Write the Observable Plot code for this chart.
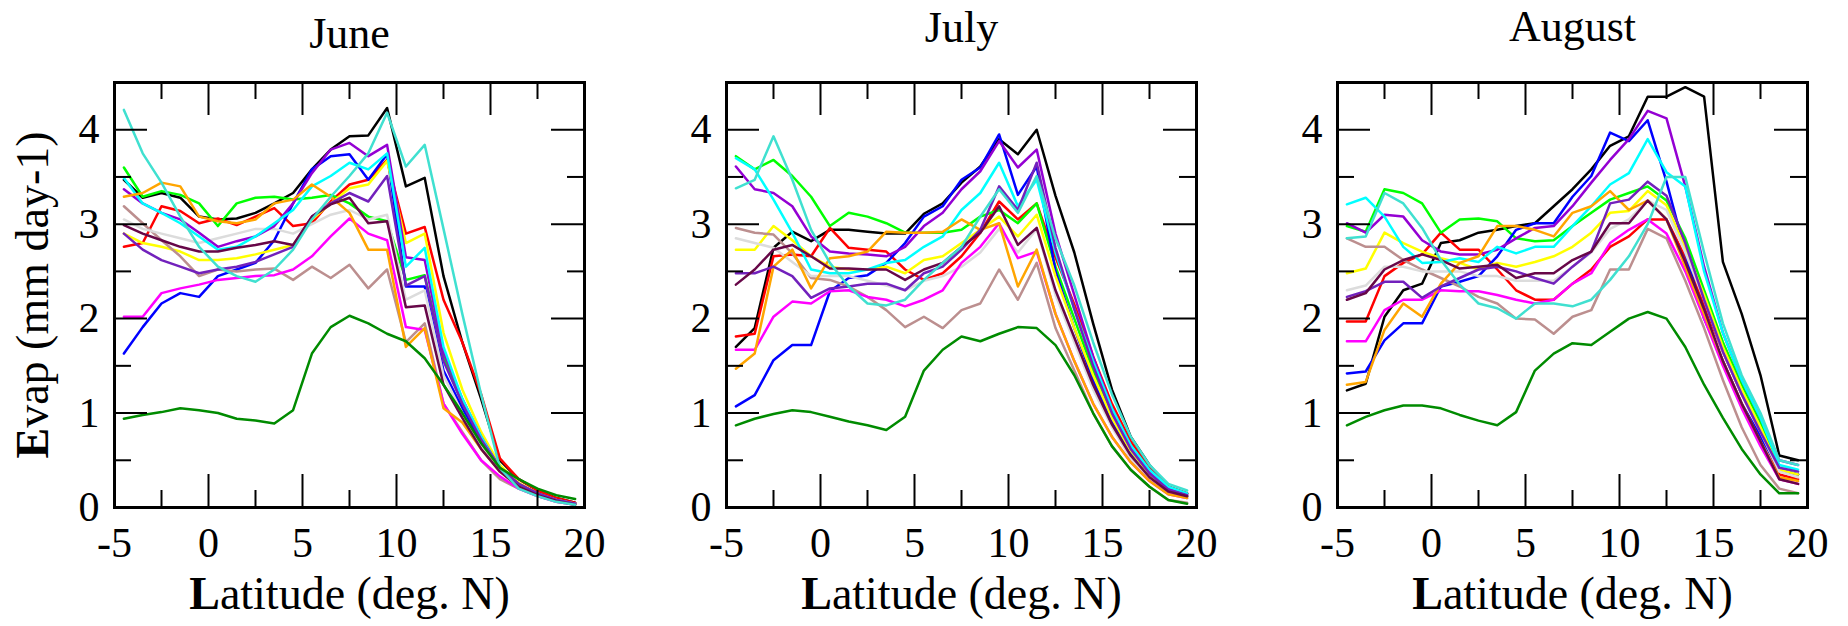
<!DOCTYPE html>
<html><head><meta charset="utf-8">
<script src="https://cdn.jsdelivr.net/npm/d3@7"></script>
<script src="https://cdn.jsdelivr.net/npm/@observablehq/plot@0.6"></script>
<style>
body{margin:0;background:#fff;}
#wrap{position:relative;width:1848px;height:626px;overflow:hidden;background:#fff;}
#wrap svg{position:absolute;top:0;}
#wrap svg text{font-family:'Liberation Serif','DejaVu Serif',serif !important;}
</style></head><body><div id="wrap"></div>
<script>
// Latitude grid (deg. N)
const lat = [-4.5,-3.5,-2.5,-1.5,-0.5,0.5,1.5,2.5,3.5,4.5,5.5,6.5,7.5,8.5,9.5,10.5,11.5,12.5,13.5,14.5,15.5,16.5,17.5,18.5,19.5];
const seriesNames = ["black","red","green","blue","yellow","brown","grey","violet","cyan","magenta","orange","indigo","maroon","turquoise","green4"];
const seriesColors = ["#000000","#ff0000","#00ff00","#0000ff","#ffff00","#bc8f8f","#dcdcdc","#9400d3","#00ffff","#ff00ff","#ffa500","#7221bc","#670748","#40e0d0","#008b00"];
const monthTitles = ["June","July","August"];
const xTickLabels = [-5,0,5,10,15,20];
const yTickLabels = [0,1,2,3,4];

const juneEvap = {
  black:    [3.47,3.28,3.33,3.28,3.08,3.05,3.06,3.12,3.22,3.33,3.58,3.79,3.93,3.94,4.23,3.40,3.49,2.45,1.75,1.15,0.50,0.30,0.18,0.10,0.05],
  red:      [2.76,2.80,3.19,3.14,3.01,3.06,2.99,3.08,3.17,2.98,3.01,3.24,3.42,3.47,3.68,2.90,2.97,2.20,1.75,1.20,0.52,0.30,0.18,0.10,0.05],
  green:    [3.60,3.29,3.35,3.31,3.22,2.98,3.22,3.28,3.29,3.26,3.28,3.31,3.22,3.08,3.03,2.41,2.46,1.60,1.10,0.75,0.42,0.25,0.15,0.08,0.04],
  blue:     [1.63,1.91,2.16,2.27,2.23,2.45,2.52,2.59,2.83,3.22,3.58,3.72,3.74,3.47,3.74,2.34,2.34,1.45,1.05,0.70,0.40,0.24,0.14,0.08,0.04],
  yellow:   [2.90,2.80,2.76,2.71,2.62,2.62,2.64,2.68,2.73,2.78,3.05,3.22,3.38,3.42,3.67,2.80,2.90,1.85,1.25,0.80,0.45,0.26,0.15,0.08,0.04],
  brown:    [3.19,3.01,2.83,2.66,2.45,2.52,2.50,2.52,2.53,2.41,2.55,2.43,2.57,2.32,2.52,1.75,1.95,1.10,0.80,0.50,0.30,0.20,0.12,0.06,0.03],
  grey:     [3.05,2.95,2.90,2.85,2.80,2.85,2.90,2.95,2.95,2.90,3.00,3.10,3.15,3.05,3.10,2.20,2.30,1.40,1.00,0.65,0.40,0.24,0.14,0.08,0.04],
  violet:   [3.37,3.22,3.12,3.05,2.91,2.76,2.82,2.87,2.98,3.22,3.54,3.79,3.86,3.72,3.84,2.65,2.62,1.65,1.15,0.75,0.42,0.25,0.15,0.08,0.04],
  cyan:     [3.49,3.22,3.12,3.01,2.87,2.73,2.76,2.87,3.01,3.15,3.40,3.51,3.65,3.58,3.75,2.55,2.75,1.70,1.15,0.75,0.40,0.22,0.13,0.07,0.03],
  magenta:  [2.02,2.02,2.27,2.32,2.36,2.41,2.43,2.45,2.46,2.52,2.66,2.87,3.06,2.90,2.83,1.91,1.88,1.10,0.78,0.50,0.33,0.20,0.12,0.06,0.03],
  orange:   [3.29,3.33,3.44,3.40,3.08,3.03,3.01,3.05,3.22,3.26,3.42,3.29,3.12,2.73,2.73,1.70,1.90,1.05,0.90,0.62,0.38,0.22,0.13,0.07,0.03],
  indigo:   [2.90,2.73,2.62,2.55,2.48,2.52,2.55,2.60,2.68,2.76,3.08,3.22,3.33,3.24,3.51,2.35,2.45,1.55,1.10,0.72,0.42,0.25,0.15,0.08,0.04],
  maroon:   [2.99,2.90,2.83,2.76,2.71,2.71,2.75,2.78,2.82,2.78,3.08,3.21,3.28,3.01,3.03,2.12,2.14,1.30,0.95,0.62,0.38,0.22,0.13,0.07,0.03],
  turquoise:[4.21,3.75,3.44,3.08,2.76,2.55,2.45,2.39,2.52,2.73,3.05,3.29,3.51,3.75,4.18,3.61,3.84,2.95,2.05,1.20,0.42,0.20,0.12,0.06,0.03],
  green4:   [0.94,0.98,1.01,1.05,1.03,1.00,0.94,0.92,0.89,1.03,1.63,1.91,2.03,1.95,1.84,1.76,1.58,1.30,1.00,0.68,0.42,0.30,0.20,0.13,0.09]
};
const julyEvap = {
  black:    [1.70,1.90,2.75,2.92,2.82,2.94,2.94,2.92,2.90,2.90,3.11,3.22,3.44,3.61,3.90,3.74,4.00,3.30,2.70,1.95,1.25,0.75,0.45,0.22,0.15],
  red:      [1.81,1.84,2.66,2.68,2.66,2.96,2.75,2.73,2.71,2.52,2.41,2.48,2.66,2.91,3.24,3.05,3.22,2.65,2.15,1.60,1.10,0.70,0.42,0.22,0.15],
  green:    [3.72,3.58,3.68,3.51,3.29,2.98,3.12,3.08,3.01,2.91,2.91,2.91,2.94,3.08,3.15,3.01,3.22,2.55,2.00,1.45,1.00,0.62,0.35,0.18,0.12],
  blue:     [1.07,1.19,1.56,1.72,1.72,2.29,2.43,2.46,2.59,2.80,3.08,3.19,3.47,3.60,3.95,3.31,3.61,2.50,1.90,1.35,0.90,0.58,0.35,0.18,0.12],
  yellow:   [2.73,2.73,2.98,2.83,2.66,2.55,2.52,2.52,2.55,2.48,2.62,2.66,2.80,2.94,3.08,2.87,3.10,2.45,1.90,1.40,0.95,0.60,0.35,0.18,0.12],
  brown:    [2.96,2.91,2.89,2.69,2.43,2.41,2.34,2.23,2.09,1.91,2.02,1.90,2.09,2.16,2.52,2.20,2.59,1.90,1.45,1.00,0.65,0.40,0.22,0.08,0.05],
  grey:     [2.85,2.80,2.75,2.60,2.45,2.45,2.45,2.40,2.35,2.30,2.40,2.45,2.55,2.70,2.95,2.70,2.95,2.25,1.75,1.25,0.85,0.52,0.30,0.15,0.10],
  violet:   [3.61,3.37,3.33,3.19,2.87,2.71,2.69,2.68,2.66,2.76,2.98,3.12,3.37,3.56,3.88,3.60,3.79,2.90,2.25,1.60,1.05,0.65,0.38,0.20,0.14],
  cyan:     [3.70,3.58,3.26,2.91,2.52,2.48,2.48,2.52,2.59,2.62,2.76,2.87,3.15,3.33,3.65,3.19,3.47,2.70,2.10,1.55,1.05,0.66,0.40,0.22,0.15],
  magenta:  [1.67,1.67,2.02,2.18,2.16,2.29,2.30,2.23,2.20,2.13,2.20,2.30,2.59,2.76,3.01,2.64,2.71,2.05,1.55,1.10,0.75,0.48,0.28,0.14,0.10],
  orange:   [1.47,1.63,2.55,2.73,2.32,2.64,2.66,2.71,2.92,2.91,2.91,2.92,3.05,2.94,3.01,2.34,2.73,2.05,1.55,1.10,0.75,0.48,0.28,0.14,0.10],
  indigo:   [2.48,2.48,2.55,2.45,2.22,2.32,2.34,2.37,2.37,2.30,2.48,2.55,2.73,2.94,3.40,3.15,3.65,2.75,2.10,1.50,1.00,0.62,0.36,0.19,0.13],
  maroon:   [2.36,2.52,2.73,2.78,2.66,2.53,2.53,2.52,2.52,2.41,2.52,2.59,2.76,2.91,3.19,2.78,2.96,2.30,1.80,1.30,0.88,0.55,0.32,0.17,0.12],
  turquoise:[3.38,3.47,3.93,3.47,2.94,2.59,2.34,2.16,2.14,2.20,2.41,2.59,2.76,3.08,3.37,3.12,3.51,2.85,2.35,1.75,1.20,0.75,0.45,0.25,0.18],
  green4:   [0.87,0.94,0.99,1.03,1.01,0.96,0.91,0.87,0.82,0.96,1.45,1.67,1.81,1.76,1.84,1.91,1.90,1.72,1.40,1.00,0.65,0.40,0.22,0.08,0.04]
};
const augustEvap = {
  black:    [1.24,1.31,2.02,2.30,2.37,2.80,2.83,2.91,2.94,2.98,3.01,3.19,3.37,3.58,3.83,3.93,4.35,4.35,4.45,4.35,2.60,2.05,1.40,0.55,0.50],
  red:      [1.97,1.97,2.45,2.59,2.68,2.91,2.73,2.73,2.52,2.30,2.20,2.20,2.37,2.52,2.76,2.87,3.05,3.05,2.65,2.15,1.65,1.20,0.80,0.35,0.30],
  green:    [2.98,2.92,3.37,3.33,3.22,2.91,3.05,3.06,3.03,2.85,2.82,2.83,2.98,3.12,3.26,3.33,3.40,3.25,2.85,2.30,1.75,1.30,0.90,0.40,0.35],
  blue:     [1.42,1.44,1.77,1.95,1.95,2.34,2.39,2.45,2.66,2.94,3.01,3.01,3.29,3.51,3.97,3.88,4.10,3.45,2.70,2.00,1.55,1.10,0.75,0.40,0.35],
  yellow:   [2.48,2.53,2.91,2.80,2.71,2.64,2.59,2.52,2.59,2.55,2.60,2.66,2.76,2.91,3.12,3.14,3.35,3.20,2.75,2.25,1.70,1.25,0.85,0.40,0.35],
  brown:    [2.85,2.76,2.76,2.62,2.52,2.43,2.34,2.23,2.16,2.00,1.99,1.84,2.02,2.09,2.52,2.52,2.95,2.85,2.40,1.90,1.35,0.85,0.45,0.20,0.15],
  grey:     [2.30,2.35,2.55,2.55,2.50,2.50,2.50,2.45,2.45,2.40,2.40,2.40,2.55,2.70,2.95,3.05,3.25,3.15,2.70,2.20,1.65,1.20,0.80,0.38,0.32],
  violet:   [3.01,2.91,3.10,3.08,2.83,2.71,2.68,2.68,2.73,2.85,2.96,2.98,3.19,3.44,3.68,3.90,4.20,4.12,3.40,2.55,1.85,1.35,0.95,0.50,0.45],
  cyan:     [3.21,3.28,3.08,2.76,2.59,2.60,2.64,2.60,2.76,2.69,2.76,2.76,2.98,3.19,3.42,3.54,3.90,3.55,3.40,2.50,1.85,1.35,0.95,0.45,0.40],
  magenta:  [1.76,1.76,2.09,2.20,2.20,2.30,2.29,2.29,2.25,2.20,2.16,2.20,2.37,2.48,2.80,2.94,3.05,2.90,2.50,2.00,1.50,1.05,0.65,0.30,0.25],
  orange:   [1.30,1.33,1.88,2.16,2.02,2.37,2.59,2.66,2.98,2.98,2.94,2.87,3.12,3.19,3.35,3.15,3.25,3.05,2.55,2.05,1.55,1.10,0.70,0.32,0.28],
  indigo:   [2.23,2.29,2.39,2.39,2.22,2.34,2.43,2.52,2.55,2.50,2.43,2.37,2.55,2.71,3.22,3.26,3.45,3.30,2.80,2.20,1.65,1.20,0.80,0.42,0.38],
  maroon:   [2.20,2.27,2.52,2.62,2.68,2.62,2.53,2.55,2.57,2.43,2.48,2.48,2.62,2.71,3.01,3.01,3.25,3.05,2.60,2.10,1.55,1.10,0.70,0.30,0.25],
  turquoise:[2.85,2.87,3.33,3.22,2.96,2.62,2.36,2.16,2.11,2.00,2.16,2.16,2.13,2.20,2.41,2.66,3.00,3.50,3.50,2.70,1.95,1.40,1.00,0.50,0.45],
  green4:   [0.87,0.96,1.03,1.08,1.08,1.05,0.98,0.92,0.87,1.01,1.45,1.63,1.74,1.72,1.86,2.00,2.07,2.00,1.70,1.30,0.95,0.62,0.35,0.15,0.15]
};

const monthData = [juneEvap, julyEvap, augustEvap];
const titleBaselines = [47, 41, 40];
const panelLefts = [0, 612, 1223];

const W = 590, H = 626, ML = 114, MR = 6, MT = 82, MB = 119;
const FW = W - ML - MR, FH = H - MT - MB;
const majorXT = [0, 5, 10, 15], minorXT = [-2.5, 2.5, 7.5, 12.5, 17.5];
const majorYT = [1, 2, 3, 4], minorYT = [0.5, 1.5, 2.5, 3.5];
const LONG = 33, SHORT = 17;
const serif = "Liberation Serif";
const xLabel = "Latitude (deg. N)", yLabel = "Evap (mm day-1)";

const wrap = document.getElementById("wrap");
monthData.forEach((md, i) => {
  const rows = seriesNames.flatMap(s => md[s].map((v, j) => ({series: s, lat: lat[j], evap: v})));
  const tk = {stroke: "black", strokeWidth: 2};
  const marks = [
    Plot.line(rows, {x: "lat", y: "evap", z: "series", stroke: "series", strokeWidth: 2.5}),
    Plot.tickX(majorXT, {x: d => d, insetTop: FH - LONG, ...tk}),
    Plot.tickX(minorXT, {x: d => d, insetTop: FH - SHORT, ...tk}),
    Plot.tickX(majorXT, {x: d => d, insetBottom: FH - LONG, ...tk}),
    Plot.tickX(minorXT, {x: d => d, insetBottom: FH - SHORT, ...tk}),
    Plot.tickY(majorYT, {y: d => d, insetRight: FW - LONG, ...tk}),
    Plot.tickY(minorYT, {y: d => d, insetRight: FW - SHORT, ...tk}),
    Plot.tickY(majorYT, {y: d => d, insetLeft: FW - LONG, ...tk}),
    Plot.tickY(minorYT, {y: d => d, insetLeft: FW - SHORT, ...tk}),
    Plot.frame({stroke: "black", strokeWidth: 3}),
    Plot.text([monthTitles[i]], {frameAnchor: "top", dy: titleBaselines[i] - MT, lineAnchor: "bottom", textAnchor: "middle", text: d => d, fontSize: 44, fontFamily: serif, fill: "black"}),
    Plot.text([xLabel], {frameAnchor: "bottom", dy: 101, lineAnchor: "bottom", textAnchor: "middle", text: d => d, fontSize: 46, fontFamily: serif, fill: "black", className: "axlabel"})
  ];
  if (i === 0) {
    marks.push(Plot.text([yLabel], {frameAnchor: "left", dx: -67, rotate: -90, lineAnchor: "bottom", textAnchor: "middle", text: d => d, fontSize: 46, fontFamily: serif, fill: "black", className: "axlabel"}));
  }
  const svg = Plot.plot({
    width: W, height: H,
    marginLeft: ML, marginRight: MR, marginTop: MT, marginBottom: MB,
    style: {fontFamily: serif, fontSize: "42px", background: "transparent", overflow: "visible", color: "black"},
    x: {domain: [-5, 20], ticks: xTickLabels, tickFormat: d => String(d), tickSize: 0, tickPadding: 20, label: null},
    y: {domain: [0, 4.5], ticks: yTickLabels, tickFormat: d => String(d), tickSize: 0, tickPadding: 15, label: null},
    color: {domain: seriesNames, range: seriesColors},
    marks
  });
  // bold initial letter on axis titles, as in the original
  d3.select(svg).selectAll("text").each(function() {
    const t = this.textContent;
    if (t === xLabel || t === yLabel) {
      const sel = d3.select(this);
      sel.text(null);
      sel.append("tspan").attr("font-weight", "bold").text(t[0]);
      sel.append("tspan").text(t.slice(1));
    }
  });
  svg.style.left = panelLefts[i] + "px";
  wrap.appendChild(svg);
});
</script></body></html>
